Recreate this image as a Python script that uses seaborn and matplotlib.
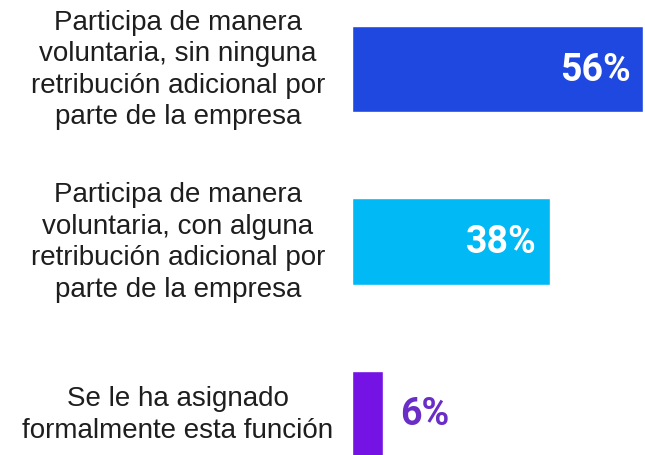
import matplotlib.pyplot as plt
import seaborn as sns
import pandas as pd

# Categories and values
labels = ['Participa de manera\nvoluntaria, sin ninguna\nretribución adicional por\nparte de la empresa',
          'Participa de manera\nvoluntaria, con alguna\nretribución adicional por\nparte de la empresa',
          'Se le ha asignado\nformalmente esta función']
values = [56, 38, 6]
colors = ['#1f48e0', '#00b9f5', '#7413e4']
value_text_colors = ['white', 'white', '#6a2dc6']

df = pd.DataFrame({'label': labels, 'value': values})

sns.set_theme(style='white')
plt.rcParams['font.family'] = ['Liberation Sans', 'DejaVu Sans']

fig = plt.figure(figsize=(6.45, 4.56), dpi=100)
ax = fig.add_axes([352 / 645, 0, 1 - 352 / 645, 1])

sns.barplot(data=df, x='value', y='label', hue='label', palette=colors,
            orient='h', width=0.5, saturation=1, legend=False, ax=ax)

ax.set_xlim(0, 56.35)
ax.set_ylim(2.238, -0.407)
ax.set_xlabel('')
ax.set_ylabel('')
ax.set_xticks([])
ax.set_yticks([])
for s in ax.spines.values():
    s.set_visible(False)

# category labels centred left of the bars
for i, lab in enumerate(labels):
    ax.text(-33.5, i, lab, ha='center', va='center', fontsize=20,
            color='#1e1e1e', linespacing=1.27, clip_on=False)

# value labels
for i, v in enumerate(values):
    if v > 20:
        ax.text(v - 2.4, i, f'{v}%', ha='right', va='center', fontsize=27,
                fontweight='bold', color=value_text_colors[i],
                family=['Roboto', 'DejaVu Sans'])
    else:
        ax.text(v + 3.2, i, f'{v}%', ha='left', va='center', fontsize=27,
                fontweight='bold', color=value_text_colors[i],
                family=['Roboto', 'DejaVu Sans'])

fig.savefig('out.png', dpi=100)
